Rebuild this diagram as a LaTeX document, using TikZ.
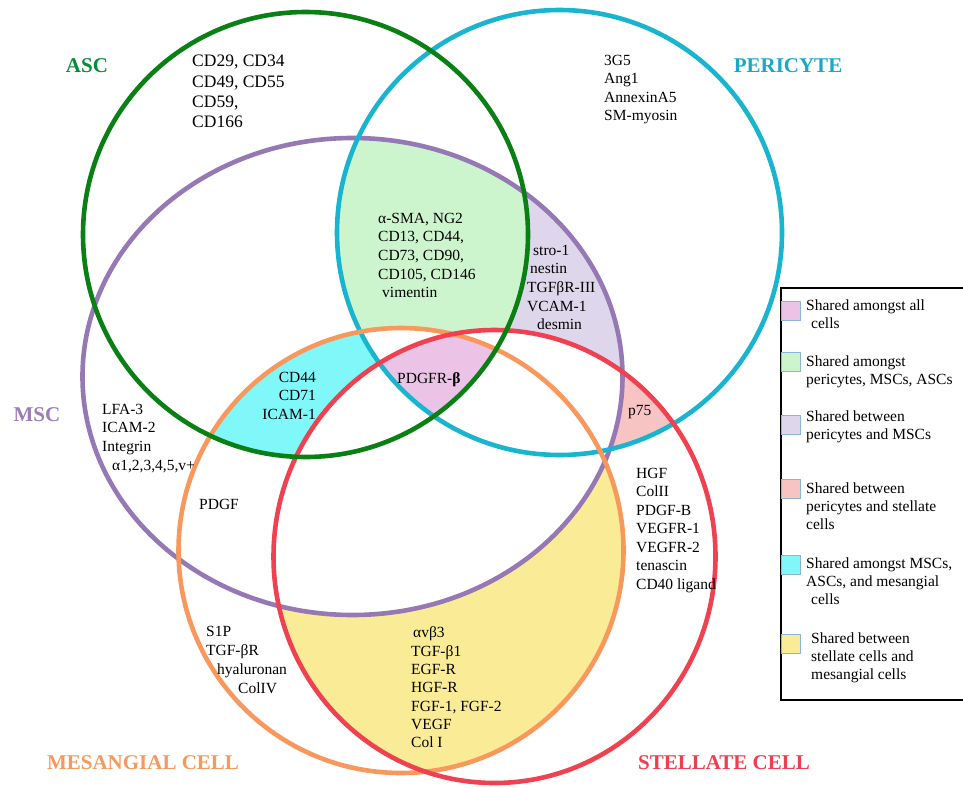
\documentclass[tikz,border=0pt]{standalone}
\usepackage{fontspec}
\setmainfont{Liberation Serif}
\definecolor{lnG}{RGB}{10,128,20}
\definecolor{lnC}{RGB}{25,180,205}
\definecolor{lnP}{RGB}{150,120,180}
\definecolor{lnO}{RGB}{248,152,92}
\definecolor{lnR}{RGB}{240,65,80}
\definecolor{fPink}{RGB}{235,195,230}
\definecolor{fGreen}{RGB}{205,245,205}
\definecolor{fLav}{RGB}{222,215,235}
\definecolor{fSalmon}{RGB}{248,195,195}
\definecolor{fCyan}{RGB}{128,248,250}
\definecolor{fYellow}{RGB}{250,236,150}
\definecolor{tG}{RGB}{10,138,60}
\definecolor{tC}{RGB}{26,168,200}
\definecolor{tP}{RGB}{155,125,184}
\definecolor{tO}{RGB}{245,154,92}
\definecolor{tR}{RGB}{238,63,79}
\definecolor{swBorder}{RGB}{140,180,215}
\def\cASC{(305.5,234.5) circle[radius=222.5]}
\def\cPERI{(559.5,232.5) circle[radius=222.5]}
\def\cMSC{(352.5,376.5) ellipse[x radius=270, y radius=238.5]}
\def\cMES{(401,550.5) circle[radius=222.5]}
\def\cRED{(494.5,556.5) ellipse[x radius=221, y radius=226.5]}
\tikzset{
  txt/.style={font=\fontsize{15.5}{18.5}\selectfont, align=left, inner sep=0pt, anchor=north west},
  big/.style={font=\fontsize{21}{24}\selectfont\bfseries, inner sep=0pt, anchor=center},
  ring/.style={line width=4.6pt},
  swatch/.style={draw=swBorder, line width=1pt},
}
\begin{document}
\begin{tikzpicture}[x=1pt,y=-1pt]
\useasboundingbox (0,0) rectangle (963,787);
\fill[white] (0,0) rectangle (963,787);
% region fills
\begin{scope}\clip \cMES; \fill[fYellow] \cRED; \end{scope}
\begin{scope}\clip \cPERI; \fill[fSalmon] \cRED; \end{scope}
\begin{scope}\clip \cPERI; \fill[fLav] \cMSC; \end{scope}
\begin{scope}\clip \cMSC; \fill[white] \cRED; \fill[white] \cMES; \end{scope}
\begin{scope}\clip \cASC; \clip \cMSC; \fill[fCyan] \cMES; \end{scope}
\begin{scope}\clip \cASC; \clip \cPERI; \fill[fGreen] \cMSC; \end{scope}
\begin{scope}\clip \cASC; \clip \cPERI; \fill[white] \cMES; \fill[white] \cRED; \end{scope}
\begin{scope}\clip \cASC; \clip \cMSC; \clip \cMES; \fill[white] \cRED; \end{scope}
\begin{scope}\clip \cASC; \clip \cPERI; \clip \cMES; \fill[fPink] \cRED; \end{scope}
% rings
\draw[ring, lnP] \cMSC;
\draw[ring, lnC] \cPERI;
\draw[ring, lnO] \cMES;
\draw[ring, lnR] \cRED;
\draw[ring, lnG] \cASC;
% set labels
\node[big, text=tG] (lASC) at (87,66) {ASC};
\node[big, text=tC] (lPERI) at (788,66) {PERICYTE};
\node[big, text=tP] (lMSC) at (37,415) {MSC};
\node[big, text=tO] (lMES) at (143,763) {MESANGIAL CELL};
\node[big, text=tR] (lSTEL) at (724,763) {STELLATE CELL};
% region texts
\node[txt, font=\fontsize{17.5}{20.3}\selectfont] (tASC) at (192,55) {CD29, CD34\\CD49, CD55\\CD59,\\CD166};
\node[txt] (tPERI) at (604,54.7) {3G5\\Ang1\\AnnexinA5\\SM-myosin};
\node[txt, font=\fontsize{15.5}{18.7}\selectfont] (tGreen) at (378,212.7) {α-SMA, NG2\\CD13, CD44,\\CD73, CD90,\\CD105, CD146\\\hspace*{4pt}vimentin};
\node[txt, font=\fontsize{15.5}{18.7}\selectfont] (tLav) at (527,244.7) {\hspace*{6pt}stro-1\\\hspace*{3pt}nestin\\TGFβR-III\\VCAM-1\\\hspace*{10pt}desmin};
\node[txt] (tPink) at (397,372.7) {PDGFR-\textbf{β}};
\node[txt, align=right, anchor=north east] (tCyan) at (316,371.7) {CD44\\CD71\\ICAM-1};
\node[txt] (tSalmon) at (628,404.7) {p75};
\node[txt, font=\fontsize{15.5}{18.8}\selectfont] (tMSC) at (102,403.7) {LFA-3\\ICAM-2\\Integrin\\\hspace*{10pt}α1,2,3,4,5,v+};
\node[txt] (tPDGF) at (199,498.7) {PDGF};
\node[txt, font=\fontsize{15.5}{19}\selectfont] (tMES) at (206,625.7) {S1P\\TGF-βR\\\hspace*{11pt}hyaluronan\\\hspace*{32pt}ColIV};
\node[txt, font=\fontsize{15.5}{18.3}\selectfont] (tYel) at (411,626.7) {\hspace*{2pt}αvβ3\\TGF-β1\\EGF-R\\HGF-R\\FGF-1, FGF-2\\VEGF\\Col I};
\node[txt] (tSTEL) at (636,467.7) {HGF\\ColII\\PDGF-B\\VEGFR-1\\VEGFR-2\\tenascin\\CD40 ligand};
% legend
\draw[line width=1.5pt] (963,288) -- (781,288) -- (781,700) -- (963,700);
\draw[swatch, fill=fPink] (781,301) rectangle (800,320);
\draw[swatch, fill=fGreen] (781,352) rectangle (800,371);
\draw[swatch, fill=fLav] (781,415) rectangle (800,434);
\draw[swatch, fill=fSalmon] (781,479) rectangle (800,498);
\draw[swatch, fill=fCyan] (781,555) rectangle (800,574);
\draw[swatch, fill=fYellow] (781,634) rectangle (800,653);
\node[txt, font=\fontsize{15.5}{18}\selectfont] (g1) at (806,299.7) {Shared amongst all\\\hspace*{5pt}cells};
\node[txt, font=\fontsize{15.5}{18}\selectfont] (g2) at (806,355.7) {Shared amongst\\pericytes, MSCs, ASCs};
\node[txt, font=\fontsize{15.5}{18}\selectfont] (g3) at (806,410.7) {Shared between\\pericytes and MSCs};
\node[txt, font=\fontsize{15.5}{18}\selectfont] (g4) at (806,482.7) {Shared between\\pericytes and stellate\\cells};
\node[txt, font=\fontsize{15.5}{18}\selectfont] (g5) at (806,557.7) {Shared amongst MSCs,\\ASCs, and mesangial\\\hspace*{5pt}cells};
\node[txt, font=\fontsize{15.5}{18}\selectfont] (g6) at (811,632.7) {Shared between\\stellate cells and\\mesangial cells};
\end{tikzpicture}
\end{document}
